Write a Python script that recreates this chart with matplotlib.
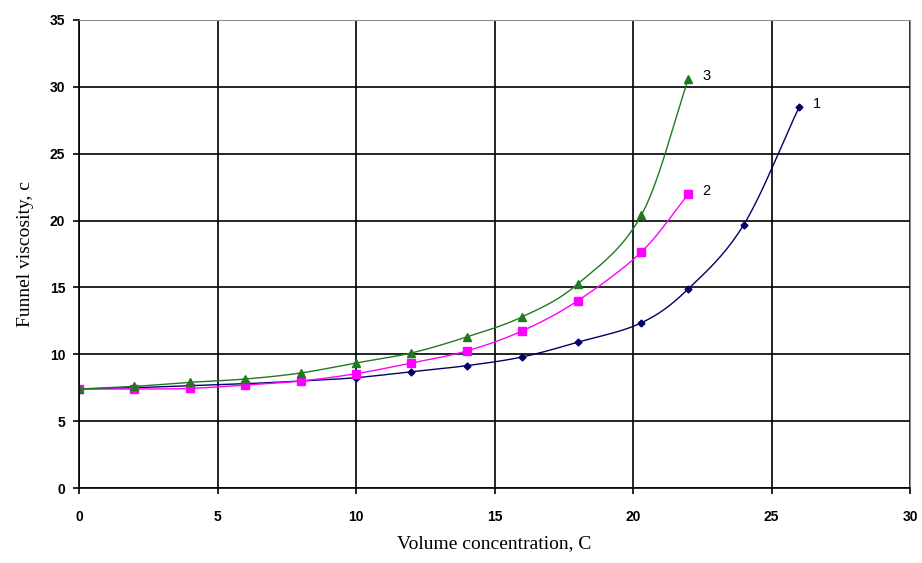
import numpy as np
import matplotlib.pyplot as plt

# volume concentration, C
x1 = [0, 2, 4, 6, 8, 10, 12, 14, 16, 18, 20.3, 22, 24, 26]
y1 = [7.4, 7.5, 7.65, 7.8, 8.0, 8.25, 8.7, 9.15, 9.8, 10.9, 12.35, 14.9, 19.7, 28.5]

x2 = [0, 2, 4, 6, 8, 10, 12, 14, 16, 18, 20.3, 22]
y2 = [7.4, 7.4, 7.45, 7.7, 8.0, 8.55, 9.35, 10.25, 11.75, 14.0, 17.65, 22.0]

x3 = [0, 2, 4, 6, 8, 10, 12, 14, 16, 18, 20.3, 22]
y3 = [7.4, 7.6, 7.9, 8.15, 8.6, 9.35, 10.1, 11.3, 12.8, 15.25, 20.4, 30.6]

labels = ["1", "2", "3"]


def smooth(x, y, n=20):
    # catmull-rom through the points, like excel's smoothed line
    x = np.asarray(x, float)
    y = np.asarray(y, float)
    px = np.concatenate([[2*x[0]-x[1]], x, [2*x[-1]-x[-2]]])
    py = np.concatenate([[2*y[0]-y[1]], y, [2*y[-1]-y[-2]]])
    xs, ys = [], []
    t = np.linspace(0, 1, n, endpoint=False)
    for i in range(1, len(px)-2):
        for p, out in ((px, xs), (py, ys)):
            p0, p1, p2, p3 = p[i-1], p[i], p[i+1], p[i+2]
            out.extend(0.5*((2*p1) + (-p0+p2)*t + (2*p0-5*p1+4*p2-p3)*t**2
                            + (-p0+3*p1-3*p2+p3)*t**3))
    xs.append(x[-1])
    ys.append(y[-1])
    return xs, ys


fig = plt.figure(figsize=(9.22, 5.63), dpi=100)
ax = fig.add_axes([0.0857, 0.1332, 0.9013, 0.8313])

series = [(x1, y1, '#000066', 'D', 3.5), (x2, y2, '#ff00ff', 's', 5.5), (x3, y3, '#1f7a1f', '^', 5.5)]
for (x, y, c, m, ms), lab in zip(series, labels):
    sx, sy = smooth(x, y)
    ax.plot(sx, sy, color=c, lw=1.0)
    ax.plot(x, y, linestyle='none', marker=m, color=c, ms=ms)
    ax.text(x[-1] + 0.5, y[-1] + 0.2, lab, fontsize=10.5, va='center', family='Liberation Sans')

ax.set_xlim(0, 30)
ax.set_ylim(0, 35)
ax.set_xticks(range(0, 31, 5))
ax.set_yticks(range(0, 36, 5))
ax.grid(True, color='black', lw=1.2)
ax.set_axisbelow(True)
for s in ['top', 'right']:
    ax.spines[s].set_color('#909090')
for s in ['left', 'bottom']:
    ax.spines[s].set_linewidth(1.2)
ax.tick_params(direction='out', length=4, width=1.2, labelsize=10)
for t in ax.get_xticklabels() + ax.get_yticklabels():
    t.set_fontweight('bold')
    t.set_family('Liberation Sans')
ax.tick_params(axis='x', pad=12)
ax.tick_params(axis='y', pad=6)

ax.set_xlabel('Volume concentration, C', family='Liberation Serif', fontsize=14, labelpad=8)
ax.set_ylabel('Funnel viscosity, c', family='Liberation Serif', fontsize=14, labelpad=11)

fig.savefig('out.png', dpi=100)
